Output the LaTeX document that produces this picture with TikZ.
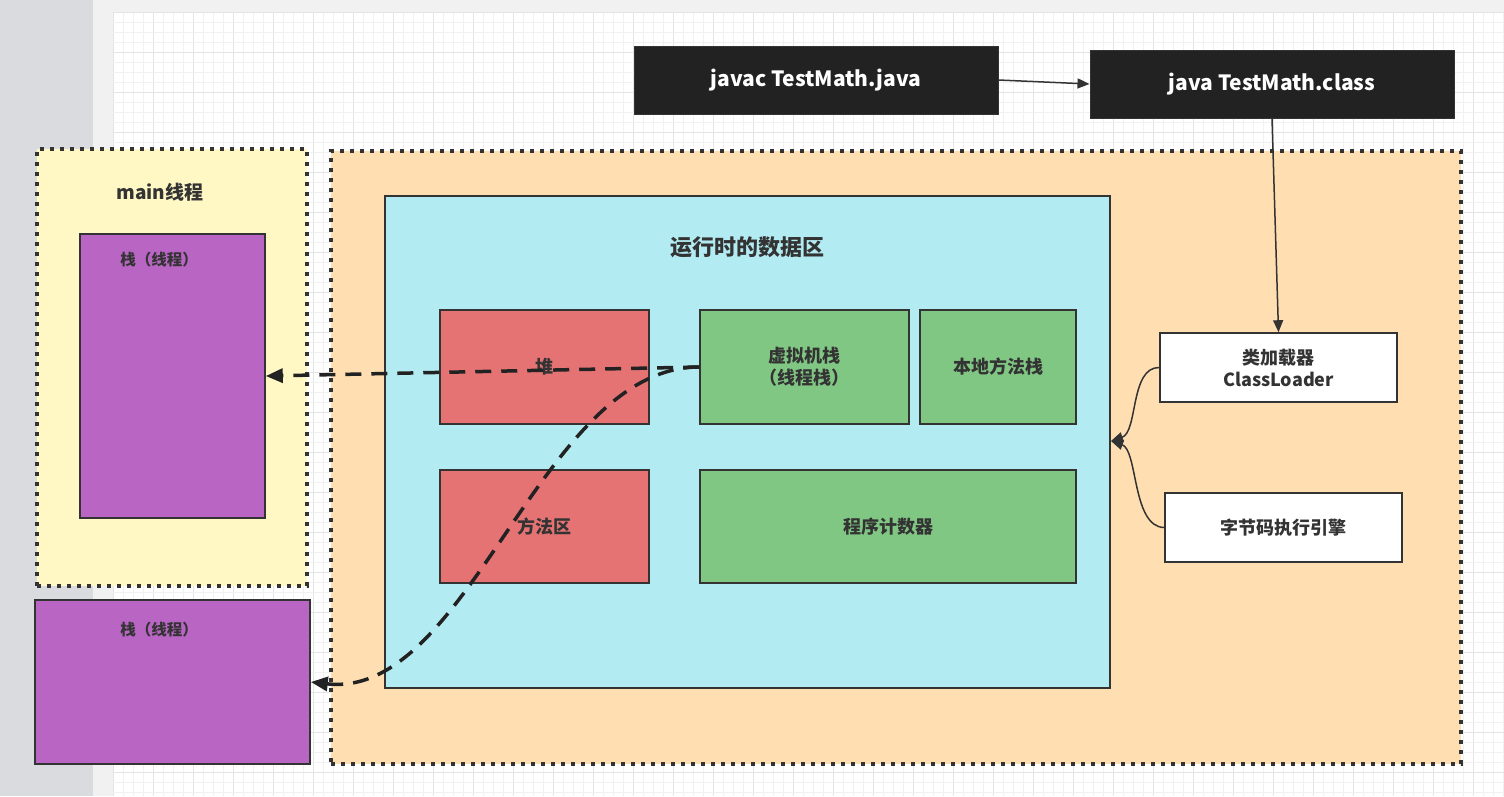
\documentclass[tikz,border=0pt]{standalone}
\usepackage{fontspec}
\setmainfont{Noto Sans CJK SC}
\usetikzlibrary{arrows.meta}
\definecolor{ink}{HTML}{333333}
\definecolor{darkbox}{HTML}{222222}
\definecolor{yel}{HTML}{FFF8C5}
\definecolor{ora}{HTML}{FFDFB1}
\definecolor{cya}{HTML}{B2EBF2}
\definecolor{redb}{HTML}{E57373}
\definecolor{grnb}{HTML}{81C784}
\definecolor{purb}{HTML}{B865C3}
\definecolor{gridmin}{HTML}{F1F1F1}
\definecolor{gridmaj}{HTML}{E4E4E4}
\definecolor{sidegrey}{HTML}{DADBDF}
\definecolor{bandgrey}{HTML}{F1F1F1}
\tikzset{
  box/.style={draw=ink, line width=1.6pt, rectangle, inner sep=0pt, text=ink, font=\bfseries\fontsize{18}{22}\selectfont, align=center},
  blackbox/.style={draw=ink, line width=1pt, fill=darkbox, rectangle, inner sep=0pt, text=white, font=\bfseries\fontsize{21}{25}\selectfont},
  dotbox/.style={draw=ink, line width=4pt, dash pattern=on 4pt off 6pt, rectangle, inner sep=0pt},
  lbl/.style={text=ink, inner sep=0pt, font=\bfseries\fontsize{15.5}{18}\selectfont},
  dasharrow/.style={draw=darkbox, line width=3.5pt, dash pattern=on 16pt off 10pt, -{Triangle[length=17pt,width=14pt]}},
  thinarrow/.style={draw=ink, line width=1.5pt, -{Triangle[length=12pt,width=10pt]}},
}
\begin{document}
\begin{tikzpicture}[x=1pt,y=-1pt]
\useasboundingbox (0,0) rectangle (1504,796);
% background
\fill[white] (0,0) rectangle (1504,796);
\fill[bandgrey] (93,0) rectangle (1504,12);
\fill[bandgrey] (93,0) rectangle (113,796);
\fill[sidegrey] (0,0) rectangle (93,796);
\foreach \i in {0,...,139} {
  \pgfmathtruncatemacro{\m}{mod(\i,4)}
  \ifnum\m=0 \draw[gridmaj, line width=1pt] (113+10*\i,12) -- (113+10*\i,796);
  \else \draw[gridmin, line width=1pt] (113+10*\i,12) -- (113+10*\i,796); \fi
}
\foreach \j in {0,...,78} {
  \pgfmathtruncatemacro{\m}{mod(\j,4)}
  \ifnum\m=0 \draw[gridmaj, line width=1pt] (113,12+10*\j) -- (1504,12+10*\j);
  \else \draw[gridmin, line width=1pt] (113,12+10*\j) -- (1504,12+10*\j); \fi
}

% top commands
\node[blackbox, minimum width=364pt, minimum height=68pt] (javac) at (816,80) {javac TestMath.java};
\node[blackbox, minimum width=364pt, minimum height=68pt] (java) at (1272,84) {java TestMath.class};

% main thread container
\node[dotbox, fill=yel, minimum width=270pt, minimum height=437pt] (mainthr) at (172,367.5) {};
\node[lbl, font=\bfseries\fontsize{19}{22}\selectfont] (mainlbl) at (160,192) {main线程};
\node[box, fill=purb, minimum width=185pt, minimum height=284pt] (stack1) at (172.5,376) {};
\node[lbl] (s1lbl) at (159,260) {栈（线程）};

% JVM container
\node[dotbox, fill=ora, minimum width=1130pt, minimum height=613pt] (jvm) at (896,457.5) {};
\node[box, fill=cya, minimum width=725pt, minimum height=492pt] (rt) at (747.5,442) {};
\node[lbl, font=\bfseries\fontsize{22}{26}\selectfont] (rtlbl) at (747,247) {运行时的数据区};

\node[box, fill=redb, minimum width=209pt, minimum height=114pt] (heap) at (544.5,367) {堆};
\node[box, fill=grnb, minimum width=209pt, minimum height=114pt] (vms) at (804.5,367) {虚拟机栈\\（线程栈）};
\node[box, fill=grnb, minimum width=156pt, minimum height=114pt] (native) at (998,367) {本地方法栈};
\node[box, fill=redb, minimum width=209pt, minimum height=113pt] (method) at (544.5,526.5) {方法区};
\node[box, fill=grnb, minimum width=376pt, minimum height=113pt] (pc) at (888,526.5) {程序计数器};

\node[box, fill=white, minimum width=237pt, minimum height=69pt] (cl) at (1278.5,367.5) {类加载器\\ClassLoader};
\node[box, fill=white, minimum width=237pt, minimum height=69pt] (engine) at (1283.5,527.5) {字节码执行引擎};

% second stack
\node[box, fill=purb, minimum width=275pt, minimum height=164pt] (stack2) at (172.5,682) {};
\node[lbl] (s2lbl) at (159,630) {栈（线程）};

% connectors
\draw[thinarrow] (javac.east) -- (java.west);
\draw[thinarrow] (java.south) -- (cl.north);
\coordinate (rtin) at (1111,441);
\draw[thinarrow] (cl.west) .. controls (1130,367) and (1138,432) .. (rtin);
\draw[thinarrow] (engine.west) .. controls (1132,527) and (1138,450) .. (rtin);

\draw[dasharrow] (vms.west) -- (stack1.east);
\draw[dasharrow] (vms.west) .. controls (540,367) and (470,700) .. (stack2.east);
\end{tikzpicture}
\end{document}
